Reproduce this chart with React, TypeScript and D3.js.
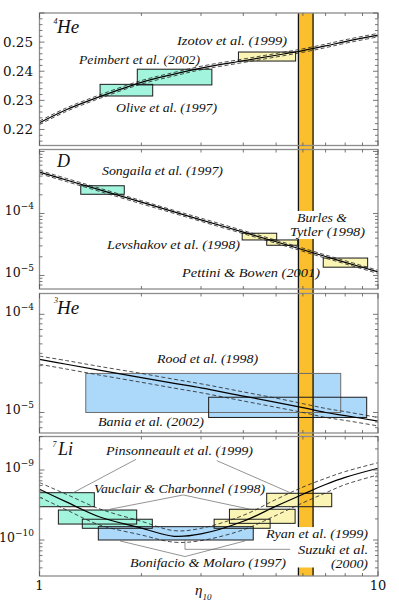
import React from 'react';
import * as d3 from 'd3';

// ---------- data ----------
const etaGrid = [1, 1.2, 1.5, 2, 2.5, 3, 4, 5, 6, 7, 8, 10];

const he4Central = [0.2223, 0.2268, 0.2312, 0.2362, 0.239, 0.2411, 0.2436, 0.2455, 0.2471, 0.2487, 0.2502, 0.2524];
const he4Upper = [0.2229, 0.2274, 0.2318, 0.2368, 0.2396, 0.2417, 0.2442, 0.2461, 0.2477, 0.2493, 0.2508, 0.253];
const he4Lower = [0.2217, 0.2262, 0.2306, 0.2356, 0.2384, 0.2405, 0.243, 0.2449, 0.2465, 0.2481, 0.2496, 0.2518];

const dCentral = [4.65e-4, 3.47e-4, 2.42e-4, 1.52e-4, 1.06e-4, 7.9e-5, 5.0e-5, 3.5e-5, 2.6e-5, 2.02e-5, 1.63e-5, 1.14e-5];
const dUpper = [4.95e-4, 3.68e-4, 2.57e-4, 1.61e-4, 1.12e-4, 8.4e-5, 5.3e-5, 3.7e-5, 2.76e-5, 2.14e-5, 1.73e-5, 1.21e-5];
const dLower = [4.38e-4, 3.27e-4, 2.28e-4, 1.43e-4, 1.0e-4, 7.45e-5, 4.72e-5, 3.3e-5, 2.45e-5, 1.9e-5, 1.54e-5, 1.075e-5];

const he3Central = [3.48e-5, 3.1e-5, 2.7e-5, 2.27e-5, 1.98e-5, 1.78e-5, 1.47e-5, 1.27e-5, 1.12e-5, 1.0e-5, 9.3e-6, 8.15e-6];
const he3Upper = [3.75e-5, 3.38e-5, 2.95e-5, 2.5e-5, 2.18e-5, 1.96e-5, 1.62e-5, 1.4e-5, 1.23e-5, 1.1e-5, 1.02e-5, 8.9e-6];
const he3Lower = [3.1e-5, 2.77e-5, 2.41e-5, 2.03e-5, 1.77e-5, 1.59e-5, 1.31e-5, 1.13e-5, 1.0e-5, 8.9e-6, 8.3e-6, 7.3e-6];

const liCentral = [5.3e-10, 3.5e-10, 2.15e-10, 1.48e-10, 1.13e-10, 1.22e-10, 1.85e-10, 3.05e-10, 4.5e-10, 6.2e-10, 7.85e-10, 1.06e-9];
const liUpper = [6.6e-10, 4.5e-10, 2.8e-10, 1.85e-10, 1.36e-10, 1.47e-10, 2.25e-10, 3.8e-10, 5.7e-10, 7.6e-10, 9.5e-10, 1.27e-9];
const liLower = [4.1e-10, 2.7e-10, 1.65e-10, 1.18e-10, 0.93e-10, 0.98e-10, 1.4e-10, 2.25e-10, 3.4e-10, 4.7e-10, 6.2e-10, 8.5e-10];

const bandEta = [5.82, 6.43];

const he4Boxes = [
  { eta: [1.51, 2.16], val: [0.2315, 0.2355], color: 'cyan' },
  { eta: [1.945, 3.23], val: [0.2353, 0.2407], color: 'cyan' },
  { eta: [3.87, 5.71], val: [0.2435, 0.2466], color: 'yellow' },
];
const dBoxes = [
  { eta: [1.324, 1.78], val: [2.04e-4, 2.8e-4], color: 'cyan' },
  { eta: [3.97, 5.02], val: [3.74e-5, 4.8e-5], color: 'yellow' },
  { eta: [4.69, 5.79], val: [3.07e-5, 3.74e-5], color: 'yellow' },
  { eta: [6.89, 9.32], val: [1.36e-5, 1.91e-5], color: 'yellow' },
];
const he3Boxes = [
  { eta: [1.37, 7.76], val: [1.0e-5, 2.5e-5], color: 'blue', edge: 'grey' },
  { eta: [3.16, 9.26], val: [8.9e-6, 1.43e-5], color: 'blue' },
];
const liBoxes = [
  { eta: [1.0, 1.452], val: [2.99e-10, 4.74e-10], color: 'cyan' },
  { eta: [1.137, 1.937], val: [1.69e-10, 2.68e-10], color: 'cyan' },
  { eta: [1.338, 2.154], val: [1.47e-10, 1.98e-10], color: 'cyan' },
  { eta: [3.64, 5.69], val: [1.73e-10, 2.75e-10], color: 'yellow' },
  { eta: [3.28, 4.8], val: [1.47e-10, 1.98e-10], color: 'yellow' },
  { eta: [4.69, 7.3], val: [2.99e-10, 4.65e-10], color: 'yellow' },
  { eta: [1.492, 4.28], val: [1.0e-10, 1.55e-10], color: 'blue' },
];

// leader lines of the Li panel, in (eta, value)
const liLeaders = [
  [[1.928, 1.42e-9], [1.258, 4.74e-10]],
  [[3.34, 1.36e-9], [5.5, 4.74e-10]],
  [[1.615, 2.75e-10], [2.66, 4.4e-10], [4.19, 2.75e-10]],
  [[1.729, 9.7e-11], [2.69, 5.8e-11], [4.05, 9.7e-11]],
  [[2.69, 1.0e-10], [2.69, 7.36e-11], [5.5, 7.36e-11]],
];

// gaps in the band (white background of labels), per panel index
const bandGaps = [
  { panel: 1, val: [3.88e-5, 1.097e-4] },
  { panel: 3, val: [4.05e-11, 1.53e-10] },
];

const he4TickLabels = ['0.22', '0.23', '0.24', '0.25'];
const dTickExp = [-4, -5];
const he3TickExp = [-4, -5];
const liTickExp = [-9, -10];
const xTickLabels = ['1', '10'];

// ---------- layout ----------
const X0 = 39.5;
const X1 = 378;
const panels = [
  { top: 13, bottom: 145.5, log: false, domain: [0.2145, 0.26] },
  { top: 149.5, bottom: 289, log: true, domain: [6.05e-6, 1.076e-3] },
  { top: 293.5, bottom: 433, log: true, domain: [6.18e-6, 1.63e-4] },
  { top: 436.5, bottom: 576, log: true, domain: [3.06e-11, 3.01e-9] },
];

const fills: Record<string, string> = { cyan: '#a2f5dc', yellow: '#faf5b4', blue: '#acd8fa' };
const LBL = 'Liberation Serif';
const NUM = 'DejaVu Serif';

function Label({ x, y, w, t, size = 13 }: { x: number; y: number; w?: number; t: string; size?: number }) {
  return (
    <text x={x} y={y} fontFamily={LBL} fontStyle="italic" fontSize={size} fill="#111"
      {...(w ? { textLength: w, lengthAdjust: 'spacingAndGlyphs' } : {})}>{t}</text>
  );
}

export default function App() {
  const x = d3.scaleLog().domain([1, 10]).range([X0, X1]);
  const ys = panels.map((p) =>
    (p.log ? d3.scaleLog() : d3.scaleLinear()).domain(p.domain).range([p.bottom, p.top])
  );

  const curves = [
    [he4Central, he4Upper, he4Lower],
    [dCentral, dUpper, dLower],
    [he3Central, he3Upper, he3Lower],
    [liCentral, liUpper, liLower],
  ];
  const boxes = [he4Boxes, dBoxes, he3Boxes, liBoxes];

  const lineFor = (i: number, vals: number[]) =>
    d3.line<number>()
      .x((_, k) => x(etaGrid[k]))
      .y((v) => ys[i](v))
      .curve(d3.curveCatmullRom.alpha(0.5))(vals) || '';

  const xMinor = d3.range(1, 11);

  const yTicks = (i: number) => {
    const p = panels[i];
    const out: { v: number; major: boolean }[] = [];
    if (!p.log) {
      for (let k = 0; k <= 30; k++) {
        const v = +(0.2 + k * 0.002).toFixed(4);
        if (v >= p.domain[0] && v <= p.domain[1]) out.push({ v, major: Math.abs(v * 100 - Math.round(v * 100)) < 1e-6 });
      }
    } else {
      const n0 = Math.floor(Math.log10(p.domain[0]));
      const n1 = Math.ceil(Math.log10(p.domain[1]));
      for (let n = n0; n <= n1; n++) {
        for (let k = 1; k <= 9; k++) {
          const v = k * Math.pow(10, n);
          if (v >= p.domain[0] && v <= p.domain[1]) out.push({ v, major: k === 1 });
        }
      }
    }
    return out;
  };

  const tickLabelExp = [null, dTickExp, he3TickExp, liTickExp];

  const bx0 = x(bandEta[0]);
  const bx1 = x(bandEta[1]);

  return (
    <svg width={399} height={615} viewBox="0 0 399 615"
      style={{ position: 'absolute', left: 0, top: 0, background: '#fff' }}>
      <rect x={0} y={0} width={399} height={615} fill="#fff" />

      {/* box fills */}
      {boxes.map((bs, i) =>
        bs.map((b: any, j: number) => (
          <rect key={`bf${i}-${j}`} x={x(b.eta[0])} y={ys[i](b.val[1])}
            width={x(b.eta[1]) - x(b.eta[0])} height={ys[i](b.val[0]) - ys[i](b.val[1])}
            fill={fills[b.color]} />
        ))
      )}

      {/* band */}
      <rect x={bx0} y={panels[0].top} width={bx1 - bx0} height={panels[3].bottom - panels[0].top} fill="#fbbf2e" />
      <line x1={bx0} x2={bx0} y1={panels[0].top} y2={panels[3].bottom} stroke="#111" strokeWidth={1.3} />
      <line x1={bx1} x2={bx1} y1={panels[0].top} y2={panels[3].bottom} stroke="#111" strokeWidth={1.3} />
      {bandGaps.map((g, k) => (
        <rect key={`gap${k}`} x={bx0 - 1.5} y={ys[g.panel](g.val[1])} width={bx1 - bx0 + 3}
          height={ys[g.panel](g.val[0]) - ys[g.panel](g.val[1])} fill="#fff" />
      ))}

      {/* box strokes */}
      {boxes.map((bs, i) =>
        bs.map((b: any, j: number) => (
          <rect key={`bs${i}-${j}`} x={x(b.eta[0])} y={ys[i](b.val[1])}
            width={x(b.eta[1]) - x(b.eta[0])} height={ys[i](b.val[0]) - ys[i](b.val[1])}
            fill="none" stroke={b.edge === 'grey' ? '#6d6d6d' : '#1a1a1a'} strokeWidth={1} />
        ))
      )}

      {/* curves */}
      {curves.map((c, i) => (
        <g key={`c${i}`}>
          <path d={lineFor(i, c[1])} fill="none" stroke="#222" strokeWidth={0.8} strokeDasharray="4,2.5" />
          <path d={lineFor(i, c[2])} fill="none" stroke="#222" strokeWidth={0.8} strokeDasharray="4,2.5" />
          <path d={lineFor(i, c[0])} fill="none" stroke="#000" strokeWidth={1.2} />
        </g>
      ))}

      {/* leader lines in Li panel */}
      {liLeaders.map((pts, k) => (
        <polyline key={`ld${k}`} points={pts.map((p) => `${x(p[0])},${ys[3](p[1])}`).join(' ')}
          fill="none" stroke="#666" strokeWidth={0.7} />
      ))}

      {/* frames and ticks */}
      {panels.map((p, i) => (
        <g key={`f${i}`}>
          <rect x={X0} y={p.top} width={X1 - X0} height={p.bottom - p.top} fill="none" stroke="#8c8c8c" strokeWidth={1.3} />
          {xMinor.map((e) => {
            const len = e === 1 || e === 10 ? 5 : 3;
            return (
              <g key={`xt${e}`}>
                <line x1={x(e)} x2={x(e)} y1={p.top} y2={p.top + len} stroke="#555" strokeWidth={0.8} />
                <line x1={x(e)} x2={x(e)} y1={p.bottom} y2={p.bottom - len} stroke="#555" strokeWidth={0.8} />
              </g>
            );
          })}
          {yTicks(i).map((t, k) => {
            const yy = ys[i](t.v);
            const len = t.major ? 5 : 3;
            return (
              <g key={`yt${k}`}>
                <line x1={X0} x2={X0 + len} y1={yy} y2={yy} stroke="#555" strokeWidth={0.8} />
                <line x1={X1} x2={X1 - len} y1={yy} y2={yy} stroke="#555" strokeWidth={0.8} />
              </g>
            );
          })}
        </g>
      ))}

      {/* y tick labels */}
      {he4TickLabels.map((s) => (
        <text key={s} x={33} y={ys[0](+s) + 4.5} textAnchor="end" fontFamily={NUM} fontSize={13.5} fill="#111">{s}</text>
      ))}
      {tickLabelExp.map((arr, i) =>
        arr ? arr.map((e) => (
          <text key={`e${i}${e}`} x={34} y={ys[i](Math.pow(10, e)) + 2} textAnchor="end" fontFamily={NUM} fontSize={12.5} fill="#111">
            10<tspan dy={-6} fontSize={9}>{'\u2212' + Math.abs(e)}</tspan>
          </text>
        )) : null
      )}

      {/* x tick labels */}
      {xTickLabels.map((s) => (
        <text key={s} x={x(+s)} y={590} textAnchor="middle" fontFamily={NUM} fontSize={13} fill="#111">{s}</text>
      ))}
      <text x={195} y={595} fontFamily={LBL} fontStyle="italic" fontSize={15} fill="#111">
        η<tspan dy={5} fontSize={9}>10</tspan>
      </text>

      {/* panel titles */}
      <text x={53.5} y={24} fontFamily={LBL} fontStyle="italic" fontSize={8} fill="#111">4</text>
      <text x={57} y={33} fontFamily={LBL} fontStyle="italic" fontSize={19} fill="#111">He</text>
      <text x={57} y={167} fontFamily={LBL} fontStyle="italic" fontSize={18} fill="#111">D</text>
      <text x={54} y={303} fontFamily={LBL} fontStyle="italic" fontSize={8} fill="#111">3</text>
      <text x={57} y={313.5} fontFamily={LBL} fontStyle="italic" fontSize={19} fill="#111">He</text>
      <text x={52.5} y={447} fontFamily={LBL} fontStyle="italic" fontSize={8} fill="#111">7</text>
      <text x={58} y={455} fontFamily={LBL} fontStyle="italic" fontSize={18} fill="#111">Li</text>

      {/* data labels */}
      <Label x={177} y={45} w={110} t="Izotov et al. (1999)" />
      <Label x={79} y={63.5} w={121} t="Peimbert et al. (2002)" />
      <Label x={116} y={111.5} w={101} t="Olive et al. (1997)" />

      <Label x={102} y={175} w={121} t="Songaila et al. (1997)" />
      <Label x={297} y={221.5} w={50} t="Burles &" />
      <Label x={290} y={235.5} w={75} t="Tytler (1998)" />
      <Label x={107} y={248.5} w={133} t="Levshakov et al. (1998)" />
      <Label x={182} y={276.5} w={138} t="Pettini & Bowen (2001)" />

      <Label x={157} y={362.5} w={101} t="Rood et al. (1998)" />
      <Label x={98} y={426} w={106} t="Bania et al. (2002)" />

      <Label x={106} y={455} w={147} t="Pinsonneault et al. (1999)" />
      <Label x={94} y={493} w={171} t="Vauclair & Charbonnel (1998)" />
      <Label x={266} y={538} w={102} t="Ryan et al. (1999)" />
      <Label x={298} y={553.5} w={70} t="Suzuki et al." />
      <Label x={331} y={567.5} w={37} t="(2000)" />
      <Label x={130} y={566.5} w={156} t="Bonifacio & Molaro (1997)" />
    </svg>
  );
}
